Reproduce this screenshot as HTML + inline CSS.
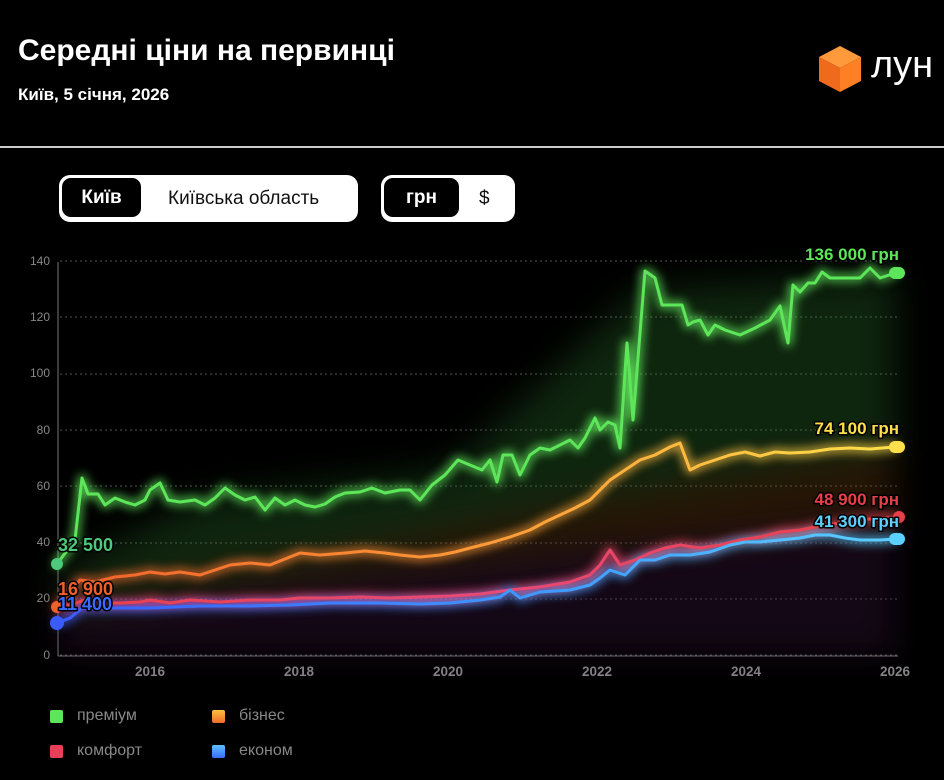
<!DOCTYPE html>
<html><head><meta charset="utf-8"><style>
body{margin:0;width:944px;height:780px;background:#000;overflow:hidden;font-family:"Liberation Sans",sans-serif;position:relative}
.t{position:absolute;color:#fff;font-weight:bold}
.grp{position:absolute;background:#fff;border-radius:11px;height:47px;top:175px}
.sel{position:absolute;top:3px;left:3px;height:37px;background:#000;border:1px solid #000;border-radius:9px;color:#fff;font-weight:bold;font-size:19px;line-height:37px;text-align:center}
.opt{position:absolute;top:0;height:47px;line-height:47px;color:#111;font-size:19px}
.yl{position:absolute;width:40px;text-align:right;left:10px;color:#888;font-size:12px}
.xl{position:absolute;color:#888;font-size:13.5px;font-weight:bold;top:664px;width:50px;text-align:center}
.lg{position:absolute;color:#888;font-size:16px}
.sq{position:absolute;width:13px;height:13px;border-radius:2px}
</style></head><body>
<div class="t" style="left:18px;top:34px;font-size:30px">Середні ціни на первинці</div>
<div class="t" style="left:18px;top:85px;font-size:17px">Київ, 5 січня, 2026</div>
<svg style="position:absolute;left:816px;top:44px" width="48" height="50" viewBox="0 0 48 50">
<polygon points="24,2 45,13 24,24 3,13" fill="#ff9a3c"/>
<polygon points="3,13 24,24 24,48 3,37" fill="#f06a1e"/>
<polygon points="45,13 24,24 24,48 45,37" fill="#ff7f24"/>
</svg>
<div style="position:absolute;left:871px;top:44px;color:#fff;font-size:38px">лун</div>
<div style="position:absolute;left:0;top:146px;width:944px;height:2px;background:#ccc"></div>

<div class="grp" style="left:59px;width:299px"><div class="sel" style="width:77px">Київ</div><div class="opt" style="left:109px">Київська область</div></div>
<div class="grp" style="left:381px;width:134px"><div class="sel" style="width:73px">грн</div><div class="opt" style="left:98px">$</div></div>

<div class="yl" style="top:254px">140</div><div class="yl" style="top:310px">120</div><div class="yl" style="top:366px">100</div><div class="yl" style="top:423px">80</div><div class="yl" style="top:479px">60</div><div class="yl" style="top:535px">40</div><div class="yl" style="top:591px">20</div><div class="yl" style="top:648px">0</div>
<div class="xl" style="left:125px">2016</div><div class="xl" style="left:274px">2018</div><div class="xl" style="left:423px">2020</div><div class="xl" style="left:572px">2022</div><div class="xl" style="left:721px">2024</div><div class="xl" style="left:870px">2026</div>

<svg style="position:absolute;left:0;top:0" width="944" height="780">
<defs>
<filter id="g" x="-10%" y="-30%" width="120%" height="160%"><feGaussianBlur stdDeviation="5"/></filter>
<filter id="h"><feGaussianBlur stdDeviation="18"/></filter>
<linearGradient id="bo" x1="0" x2="1"><stop offset="0" stop-color="#f0602a"/><stop offset="0.6" stop-color="#ffa53a"/><stop offset="1" stop-color="#ffe04a"/></linearGradient>
<linearGradient id="bb" x1="0" x2="1"><stop offset="0" stop-color="#3a5cff"/><stop offset="0.6" stop-color="#3f9cff"/><stop offset="1" stop-color="#5cd0ff"/></linearGradient>
<linearGradient id="br" x1="0" x2="1"><stop offset="0" stop-color="#e84048"/><stop offset="0.5" stop-color="#e84a78"/><stop offset="1" stop-color="#e84048"/></linearGradient>
</defs>
<g stroke="#555" stroke-dasharray="2,3" stroke-width="1">
<line x1="60" x2="898" y1="261" y2="261"/><line x1="60" x2="898" y1="317" y2="317"/><line x1="60" x2="898" y1="374" y2="374"/><line x1="60" x2="898" y1="430" y2="430"/><line x1="60" x2="898" y1="486" y2="486"/><line x1="60" x2="898" y1="543" y2="543"/><line x1="60" x2="898" y1="599" y2="599"/><line x1="60" x2="898" y1="655" y2="655"/>
</g>
<line x1="58" y1="262" x2="58" y2="656" stroke="#777"/>
<line x1="58" y1="656" x2="898" y1="656" y2="656" stroke="#777"/>
<g filter="url(#h)" opacity="0.35">
<polygon points="60,570 200,500 450,470 640,290 895,275 895,450 600,500 300,560 60,600" fill="#2a6a2a"/>
<polygon points="60,600 300,560 600,500 895,450 895,520 600,570 60,610" fill="#6a3a10"/>
<polygon points="60,610 895,520 895,655 60,655" fill="#3a1540"/>
</g>
<g fill="none" stroke-linejoin="round" stroke-linecap="round">
<g id="lines">
<polyline stroke="#5ee65a" points="57,564 75,540 82,478 88,494 98,494 105,505 115,498 125,502 135,505 145,500 150,490 160,483 168,500 180,502 195,500 205,505 215,498 225,488 235,495 245,500 255,497 265,510 275,498 285,505 295,500 305,505 315,507 325,504 335,497 345,493 360,492 372,488 385,493 400,490 410,490 420,500 432,485 445,475 458,460 470,465 482,470 490,460 497,482 503,455 512,455 520,475 530,455 540,448 550,450 560,445 570,440 578,448 585,438 595,418 600,430 608,422 615,425 620,448 627,343 633,420 645,271 655,278 662,305 675,305 682,305 688,325 693,322 700,320 708,335 715,325 725,330 740,335 755,328 770,320 780,306 788,343 793,285 800,292 808,283 815,283 822,272 830,278 845,278 860,278 870,268 880,278 895,273"/>
<polyline stroke="url(#bo)" points="57,607 70,592 80,580 95,582 115,577 135,575 150,572 165,574 180,572 200,575 215,570 230,565 250,563 270,565 290,557 300,553 320,555 345,553 365,551 385,553 400,555 420,557 440,555 455,552 470,548 490,543 510,537 530,530 545,522 560,515 575,508 590,500 600,490 610,480 625,470 640,460 655,455 670,447 680,443 690,470 700,465 715,460 730,455 745,452 760,456 775,452 790,453 810,452 830,449 850,448 870,449 895,447"/>
<polyline stroke="url(#br)" points="57,607 70,605 85,600 100,603 120,603 140,602 150,600 170,603 190,600 220,602 250,600 280,600 300,598 330,598 360,597 390,598 420,597 450,596 480,594 510,590 540,587 570,582 590,575 600,565 610,550 620,565 635,560 650,553 665,548 680,545 700,548 720,545 740,540 760,537 780,532 800,530 820,526 840,523 860,520 880,518 895,517"/>
<polyline stroke="url(#bb)" points="57,623 70,618 82,608 100,608 150,608 200,606 250,606 290,605 330,603 380,603 420,604 450,603 480,600 500,597 510,590 520,598 540,592 570,590 590,585 600,578 610,570 625,575 640,560 655,560 670,555 690,555 710,552 730,545 745,542 760,542 780,540 800,538 815,535 830,535 845,538 860,540 880,540 895,539"/>
</g>
<use href="#lines" stroke-width="7" filter="url(#g)" opacity="0.9"/>
<use href="#lines" stroke-width="3"/>
</g>
<g>
<circle cx="57" cy="564" r="6" fill="#4ec87a"/><circle cx="57" cy="607" r="6" fill="#f0602a"/><circle cx="57" cy="623" r="7" fill="#3a5cff"/>
<rect x="889" y="267" width="16" height="12" rx="6" fill="#5ee65a"/>
<rect x="889" y="441" width="16" height="12" rx="6" fill="#ffe04a"/>
<circle cx="899" cy="517" r="6" fill="#e84048"/>
<rect x="889" y="533" width="16" height="12" rx="6" fill="#5cd0ff"/>
</g>
<g font-family="Liberation Sans,sans-serif" font-weight="bold" font-size="17" stroke="#000" stroke-width="3" paint-order="stroke" stroke-linejoin="round">
<text x="899" y="260" text-anchor="end" fill="#5ee65a">136 000 грн</text>
<text x="899" y="434" text-anchor="end" fill="#ffe04a">74 100 грн</text>
<text x="899" y="505" text-anchor="end" fill="#e84048">48 900 грн</text>
<text x="899" y="527" text-anchor="end" fill="#5cd0ff">41 300 грн</text>
<text x="58" y="551" fill="#4ec87a" font-size="18">32 500</text>
<text x="58" y="595" fill="#f0602a" font-size="18">16 900</text>
<text x="58" y="610" fill="#3a6cff" font-size="18">11 400</text>
</g>
</svg>

<div class="sq" style="left:50px;top:710px;background:#5ee65a"></div><div class="lg" style="left:77px;top:707px">преміум</div>
<div class="sq" style="left:212px;top:710px;background:linear-gradient(#ffc040,#f06a2a)"></div><div class="lg" style="left:239px;top:707px">бізнес</div>
<div class="sq" style="left:50px;top:745px;background:#e84058"></div><div class="lg" style="left:77px;top:742px">комфорт</div>
<div class="sq" style="left:212px;top:745px;background:linear-gradient(#5cc0ff,#3a6cff)"></div><div class="lg" style="left:239px;top:742px">економ</div>
</body></html>
